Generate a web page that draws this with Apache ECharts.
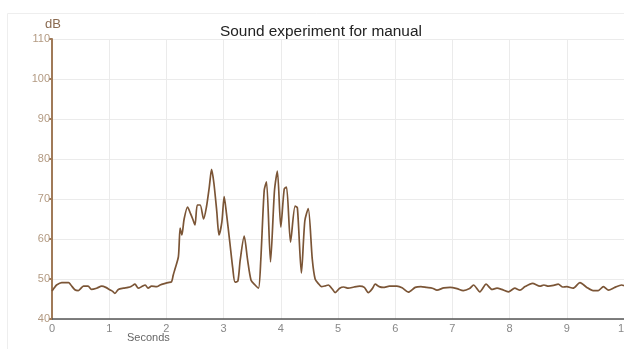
<!DOCTYPE html>
<html>
<head>
<meta charset="utf-8">
<style>html,body{margin:0;padding:0;background:#fff;}#c{width:624px;height:349px;}</style>
<script src="https://cdn.jsdelivr.net/npm/echarts@6/dist/echarts.min.js"></script>
</head>
<body>
<div id="c"></div>
<script>
const chartTitle = 'Sound experiment for manual';
const xAxisTitle = 'Seconds';
const yAxisTitle = 'dB';
const seconds = [0.00,0.04,0.08,0.17,0.29,0.33,0.40,0.46,0.55,0.63,0.69,0.78,0.87,0.94,1.01,1.06,1.10,1.16,1.25,1.33,1.39,1.45,1.51,1.57,1.63,1.68,1.74,1.83,1.89,1.98,2.03,2.09,2.12,2.15,2.21,2.24,2.27,2.31,2.37,2.42,2.46,2.50,2.54,2.59,2.65,2.70,2.75,2.79,2.83,2.88,2.92,2.97,3.01,3.05,3.11,3.16,3.20,3.25,3.29,3.36,3.42,3.48,3.55,3.61,3.65,3.71,3.75,3.82,3.89,3.94,4.00,4.06,4.10,4.17,4.25,4.29,4.36,4.42,4.48,4.55,4.60,4.66,4.71,4.78,4.83,4.90,4.95,5.03,5.10,5.18,5.28,5.38,5.46,5.53,5.60,5.65,5.72,5.79,5.90,6.03,6.12,6.23,6.35,6.45,6.55,6.65,6.73,6.85,6.96,7.08,7.19,7.30,7.37,7.48,7.59,7.69,7.78,7.86,7.98,8.09,8.18,8.27,8.40,8.53,8.60,8.68,8.77,8.85,8.93,9.00,9.11,9.23,9.35,9.46,9.55,9.64,9.73,9.84,9.96,10.0];
const decibels = [47.0,47.8,48.5,49.1,49.1,48.5,47.3,47.1,48.2,48.2,47.4,47.7,48.2,47.9,47.3,46.9,46.4,47.4,47.7,47.9,48.2,48.7,47.7,48.1,48.5,47.7,48.2,48.1,48.5,48.9,49.1,49.3,51.0,52.5,55.6,62.7,61.0,65.0,68.0,66.4,65.0,63.5,68.5,68.5,65.0,68.0,73.0,77.4,74.0,67.0,61.0,64.3,70.6,66.4,59.0,52.7,49.2,49.5,54.7,60.7,54.7,49.7,48.5,47.7,54.7,72.2,74.3,54.3,72.2,77.0,63.0,72.5,73.0,59.2,68.2,67.8,51.5,64.5,67.6,55.0,50.0,48.8,48.1,48.3,48.5,47.5,46.6,47.7,48.0,47.7,48.0,48.2,47.9,46.6,47.6,48.7,48.1,47.9,48.2,48.2,47.8,46.7,47.9,48.1,47.9,47.7,47.2,47.8,47.9,47.6,47.1,47.6,48.5,46.8,48.7,47.4,47.7,47.4,46.8,47.7,47.2,48.1,48.9,48.2,48.5,48.2,48.4,48.7,48.0,48.1,47.7,49.1,47.9,47.1,47.1,48.1,47.2,47.9,48.5,48.3];

const points = seconds.map((t, i) => [t, decibels[i]]);
const chart = echarts.init(document.getElementById('c'), null, {renderer: 'canvas'});
chart.setOption({
  animation: false,
  backgroundColor: '#fff',
  title: {
    text: chartTitle, left: 215, top: 19,
    textStyle: {fontFamily: 'Liberation Sans, Arial, sans-serif', fontSize: 15.4, fontWeight: 'normal', color: '#222'}
  },
  grid: {left: 52, right: 0, top: 39, bottom: 30, containLabel: false, outerBoundsMode: 'none'},
  graphic: [
    {type: 'rect', shape: {x: 7.5, y: 13.5, width: 640, height: 400}, style: {fill: 'none', stroke: '#eeeeee', lineWidth: 1}, z: -1},
    {type: 'text', left: 45, top: 18, style: {text: yAxisTitle, fill: '#8a6a50', font: '13px Liberation Sans, Arial, sans-serif'}},
    {type: 'text', left: 127, top: 332, style: {text: xAxisTitle, fill: '#666', font: '11px Liberation Sans, Arial, sans-serif'}}
  ],
  xAxis: {
    type: 'value', min: 0, max: 10, interval: 1,
    axisLine: {show: true, onZero: false, lineStyle: {color: '#555', width: 1.5}},
    axisTick: {show: false},
    axisLabel: {color: '#888', fontSize: 11, margin: 4, fontFamily: 'Liberation Sans, Arial, sans-serif'},
    splitLine: {show: true, lineStyle: {color: '#ebebeb', width: 1}}
  },
  yAxis: {
    type: 'value', min: 40, max: 110, interval: 10,
    axisLine: {show: true, lineStyle: {color: '#a07a58', width: 2}},
    axisTick: {show: true, length: 3, inside: false, lineStyle: {color: '#a07a58', width: 2}},
    axisLabel: {color: '#b39a82', fontSize: 11, margin: 2, fontFamily: 'Liberation Sans, Arial, sans-serif'},
    splitLine: {show: true, lineStyle: {color: '#ebebeb', width: 1}}
  },
  series: [{
    type: 'line', data: points, showSymbol: false, smooth: 0.25,
    lineStyle: {color: '#7b5536', width: 1.7}
  }]
});
</script>
</body>
</html>
